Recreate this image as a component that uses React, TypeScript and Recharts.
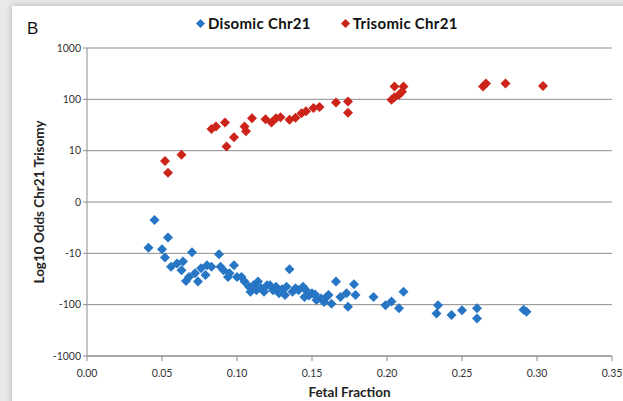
import { CartesianGrid, Scatter, ScatterChart, XAxis, YAxis } from 'recharts';

// fetal fraction vs signed log10 odds, y in axis units (1 = "10", 2 = "100" ...)
const disomic: [number, number][] = [
  [0.041, -0.89], [0.045, -0.35], [0.05, -0.92], [0.052, -1.08], [0.054, -0.69],
  [0.056, -1.26], [0.06, -1.2], [0.063, -1.33], [0.064, -1.16], [0.066, -1.54],
  [0.068, -1.46], [0.07, -0.98], [0.072, -1.39], [0.074, -1.55], [0.076, -1.29],
  [0.079, -1.42], [0.08, -1.23], [0.083, -1.26], [0.088, -1.02], [0.089, -1.26],
  [0.091, -1.33], [0.094, -1.46], [0.095, -1.39], [0.098, -1.23], [0.1, -1.46],
  [0.103, -1.46], [0.105, -1.55], [0.108, -1.65], [0.109, -1.75], [0.111, -1.62],
  [0.113, -1.72], [0.114, -1.55], [0.116, -1.68], [0.118, -1.75], [0.12, -1.62],
  [0.122, -1.62], [0.124, -1.72], [0.126, -1.65], [0.128, -1.78], [0.13, -1.7],
  [0.132, -1.81], [0.133, -1.65], [0.135, -1.31], [0.137, -1.75], [0.139, -1.68],
  [0.141, -1.72], [0.144, -1.65], [0.145, -1.85], [0.146, -1.72], [0.148, -1.82],
  [0.15, -1.78], [0.152, -1.8], [0.153, -1.91], [0.156, -1.88], [0.158, -1.95],
  [0.16, -1.84], [0.161, -1.81], [0.163, -1.98], [0.166, -1.55], [0.169, -1.85],
  [0.173, -1.78], [0.174, -2.04], [0.178, -1.6], [0.179, -1.81], [0.191, -1.85],
  [0.199, -2.01], [0.203, -1.94], [0.208, -2.07], [0.211, -1.75], [0.234, -2.01],
  [0.233, -2.17], [0.243, -2.2], [0.25, -2.11], [0.26, -2.07], [0.26, -2.27],
  [0.291, -2.1], [0.293, -2.14],
];

const trisomic: [number, number][] = [
  [0.052, 0.8], [0.054, 0.57], [0.063, 0.92], [0.083, 1.42], [0.086, 1.47],
  [0.092, 1.55], [0.093, 1.08], [0.098, 1.26], [0.105, 1.47], [0.106, 1.38],
  [0.11, 1.63], [0.119, 1.61], [0.123, 1.55], [0.126, 1.63], [0.129, 1.65],
  [0.135, 1.6], [0.139, 1.64], [0.143, 1.73], [0.146, 1.77], [0.151, 1.83],
  [0.155, 1.85], [0.166, 1.94], [0.174, 1.96], [0.174, 1.74], [0.203, 1.99],
  [0.205, 2.04], [0.208, 2.09], [0.21, 2.15], [0.205, 2.25], [0.211, 2.25],
  [0.264, 2.25], [0.266, 2.31], [0.279, 2.31], [0.304, 2.26],
];

const xTicks = [0, 0.05, 0.1, 0.15, 0.2, 0.25, 0.3, 0.35];
const yTicks = [-3, -2, -1, 0, 1, 2, 3];
const yTickLabels = ['-1000', '-100', '-10', '0', '10', '100', '1000'];

const seriesNames = ['Disomic Chr21', 'Trisomic Chr21'];
const BLUE = '#2776c5';
const RED = '#cc2418';
const GRID = '#8c8c8c';

const toPoints = (rows: [number, number][]) => rows.map(([x, y]) => ({ x, y }));

function diamond(fill: string) {
  return (props: any) => {
    const { cx, cy } = props;
    const r = 5;
    return <path d={`M${cx},${cy - r}L${cx + r},${cy}L${cx},${cy + r}L${cx - r},${cy}Z`} fill={fill} />;
  };
}

function LegendDot({ color }: { color: string }) {
  return (
    <svg width={9} height={9} style={{ marginRight: 3 }}>
      <path d="M4.5,0L9,4.5L4.5,9L0,4.5Z" fill={color} />
    </svg>
  );
}

export default function App() {
  return (
    <div style={{ position: 'absolute', left: 0, top: 0, width: 623, height: 401, background: '#e9e9e9', overflow: 'hidden' }}>
      <div
        style={{
          position: 'absolute', left: 12, top: 6, width: 640, height: 420, background: '#fff',
          boxShadow: '0 0 6px rgba(0,0,0,0.25)',
        }}
      />
      <div style={{ position: 'absolute', left: 0, top: 0, fontFamily: 'Lato, sans-serif' }}>
        <ScatterChart width={623} height={401} margin={{ top: 48, right: 11, bottom: 0, left: 0 }}>
          <CartesianGrid vertical={false} stroke={GRID} />
          <XAxis
            type="number"
            dataKey="x"
            domain={[0, 0.35]}
            ticks={xTicks}
            tickFormatter={(v: number) => v.toFixed(2)}
            height={45}
            stroke={GRID}
            tickSize={5}
            tickMargin={9}
            tick={{ fontSize: 10.5, fill: '#333' }}
            label={{ value: 'Fetal Fraction', position: 'insideBottom', offset: 4, fontSize: 13.5, fontWeight: 700, fill: '#222' }}
          />
          <YAxis
            type="number"
            dataKey="y"
            domain={[-3, 3]}
            ticks={yTicks}
            tickFormatter={(v: number) => yTickLabels[yTicks.indexOf(v)]}
            width={87}
            stroke={GRID}
            tickSize={4}
            tickMargin={2}
            tick={{ fontSize: 10.5, fill: '#333' }}
            label={{ value: 'Log10 Odds Chr21 Trisomy', angle: -90, position: 'center', dx: -4, fontSize: 13.5, fontWeight: 700, fill: '#222' }}
          />
          <Scatter name={seriesNames[0]} data={toPoints(disomic)} shape={diamond(BLUE)} isAnimationActive={false} />
          <Scatter name={seriesNames[1]} data={toPoints(trisomic)} shape={diamond(RED)} isAnimationActive={false} />
        </ScatterChart>
      </div>
      <div style={{ position: 'absolute', left: 27, top: 19, fontSize: 17, fontFamily: 'Liberation Sans, Arial, sans-serif', color: '#111' }}>B</div>
      <div
        style={{
          position: 'absolute', left: 196, top: 14, display: 'flex', alignItems: 'center',
          fontFamily: 'Lato, sans-serif', fontWeight: 700, fontSize: 15, letterSpacing: 0.3, color: '#111',
        }}
      >
        <LegendDot color={BLUE} />
        <span style={{ marginRight: 30 }}>{seriesNames[0]}</span>
        <LegendDot color={RED} />
        <span>{seriesNames[1]}</span>
      </div>
    </div>
  );
}
